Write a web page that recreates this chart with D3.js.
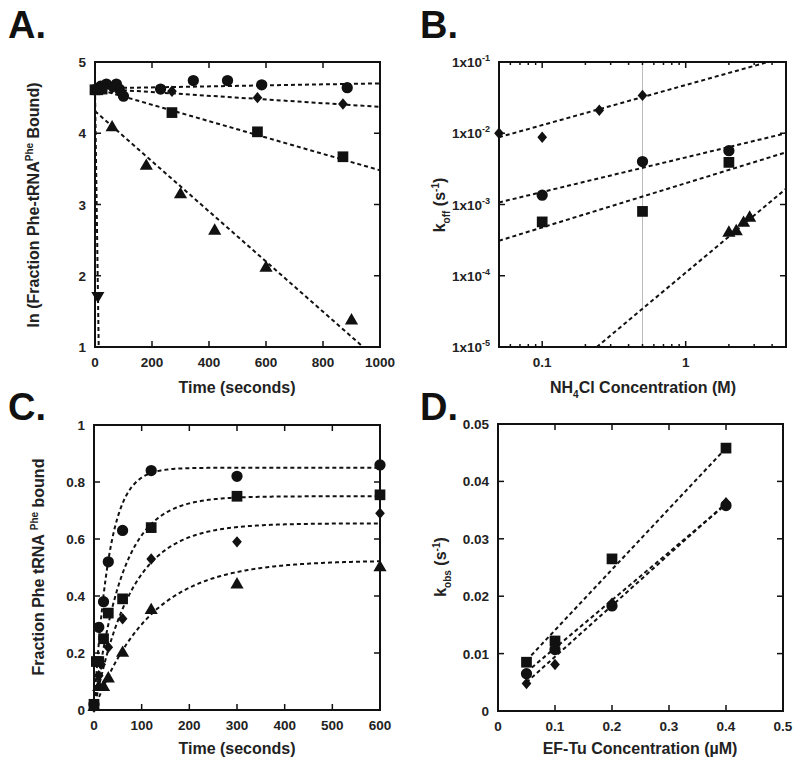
<!DOCTYPE html>
<html><head><meta charset="utf-8">
<script src="https://cdn.jsdelivr.net/npm/d3@7"></script>
<style>body{margin:0;background:#fff}</style>
</head><body><svg id="c" width="800" height="768"></svg>
<script>
// ---------- Panel A data (time s, ln fraction bound) ----------
const aCircles  = [[10,4.63],[20,4.66],[40,4.69],[75,4.69],[85,4.62],[100,4.52],[230,4.62],[345,4.74],[465,4.74],[585,4.68],[885,4.64]];
const aDiamonds = [[15,4.62],[60,4.63],[90,4.58],[270,4.59],[570,4.50],[870,4.41]];
const aSquares  = [[0,4.61],[10,4.61],[25,4.62],[270,4.29],[570,4.02],[870,3.67]];
const aTriangles= [[60,4.08],[180,3.54],[300,3.14],[420,2.63],[600,2.11],[900,1.37]];
const aInvTri   = [[10,1.72]];
const aFits = [
  [[0,4.63],[1000,4.70]],
  [[0,4.63],[1000,4.37]],
  [[0,4.63],[1000,3.48]],
  [[0,4.31],[941,1.0]],
  [[0,4.62],[13,1.0]]
];
const aXTicks = [0,200,400,600,800,1000];
const aYTicks = [1,2,3,4,5];

// ---------- Panel B data (NH4Cl M, koff s^-1) ----------
const bDiamonds = [[0.05,0.0100],[0.1,0.0088],[0.25,0.021],[0.5,0.034]];
const bCircles  = [[0.1,0.00135],[0.5,0.0040],[2,0.0057]];
const bSquares  = [[0.1,0.00057],[0.5,0.00080],[2,0.0039]];
const bTriangles= [[2,0.00040],[2.25,0.00042],[2.53,0.00055],[2.79,0.00065]];
const bFits = [
  [[0.05,0.0088],[3.75,0.1]],
  [[0.05,0.00107],[5,0.0100]],
  [[0.05,0.00031],[5,0.0054]],
  [[0.24,0.00001],[5,0.00166]]
];
const bXTickLabels = [0.1,1];
const bYTickExp = [-5,-4,-3,-2,-1];

// ---------- Panel C data (time s, fraction bound) ----------
const cCircles  = [[0,0.02],[10,0.29],[20,0.38],[30,0.52],[60,0.63],[120,0.84],[300,0.82],[600,0.86]];
const cSquares  = [[0,0.02],[5,0.17],[10,0.17],[20,0.25],[30,0.34],[60,0.39],[120,0.64],[300,0.75],[600,0.755]];
const cDiamonds = [[0,0.01],[10,0.12],[15,0.16],[30,0.22],[60,0.32],[120,0.53],[300,0.59],[600,0.69]];
const cTriangles= [[0,0.01],[10,0.08],[20,0.08],[30,0.11],[60,0.20],[120,0.35],[300,0.44],[600,0.50]];
// single-exponential fit parameters [amplitude, rate]
const cFitAmp  = [0.85, 0.75, 0.655, 0.525];
const cFitRate = [0.032, 0.017, 0.013, 0.0085];
const cXTicks = [0,100,200,300,400,500,600];
const cYTicks = [0,0.2,0.4,0.6,0.8,1];

// ---------- Panel D data (EF-Tu uM, kobs s^-1) ----------
const dSquares  = [[0.05,0.0085],[0.1,0.0122],[0.2,0.0265],[0.4,0.0458]];
const dCircles  = [[0.05,0.0065],[0.1,0.0107],[0.2,0.0183],[0.4,0.0358]];
const dDiamonds = [[0.05,0.0048],[0.1,0.0081],[0.2,0.0188],[0.4,0.0363]];
const dFits = [
  [[0.05,0.0088],[0.4,0.0458]],
  [[0.05,0.0068],[0.4,0.0360]],
  [[0.05,0.0050],[0.4,0.0362]]
];
const dXTicks = [0,0.1,0.2,0.3,0.4,0.5];
const dYTicks = [0,0.01,0.02,0.03,0.04,0.05];

// ---------- drawing ----------
const svg = d3.select("#c");
const FONT = "'Liberation Sans', Arial, Helvetica, sans-serif";
const TXT = "#222";

const diamondType = {draw(ctx, size){ const w = Math.sqrt(size)/2*0.85, h = Math.sqrt(size)/2;
  ctx.moveTo(0,-h); ctx.lineTo(w,0); ctx.lineTo(0,h); ctx.lineTo(-w,0); ctx.closePath(); }};
const invTriType = {draw(ctx, size){ const s = Math.sqrt(size*4/Math.sqrt(3)); const h = s*Math.sqrt(3)/2;
  ctx.moveTo(-s/2,-h/3); ctx.lineTo(s/2,-h/3); ctx.lineTo(0,2*h/3); ctx.closePath(); }};
const SYM = {
  circle: d3.symbol(d3.symbolCircle, 100),
  square: d3.symbol(d3.symbolSquare, 115),
  diamond: d3.symbol(diamondType, 130),
  triangle: d3.symbol(d3.symbolTriangle, 75),
  invtri: d3.symbol(invTriType, 75)
};

let clipId = 0;
function panel(o){
  const g = svg.append("g");
  const x = o.x, y = o.y;
  const [x0,x1] = x.range(), [y0,y1] = y.range();
  const id = "clip"+(clipId++);
  g.append("clipPath").attr("id",id).append("rect")
    .attr("x",x0).attr("y",y1).attr("width",x1-x0).attr("height",y0-y1);
  if (o.vref) g.append("line").attr("x1",x(o.vref)).attr("x2",x(o.vref)).attr("y1",y0).attr("y2",y1)
      .attr("stroke","#bbb").attr("stroke-width",1);
  const tk = 6, tkm = 3;
  const tickG = g.append("g").attr("stroke","#111").attr("stroke-width",1.5);
  o.xTicks.forEach(t=>{ tickG.append("line").attr("x1",x(t)).attr("x2",x(t)).attr("y1",y0).attr("y2",y0-tk);
    tickG.append("line").attr("x1",x(t)).attr("x2",x(t)).attr("y1",y1).attr("y2",y1+tk); });
  (o.xMinor||[]).forEach(t=>{ tickG.append("line").attr("x1",x(t)).attr("x2",x(t)).attr("y1",y0).attr("y2",y0-tkm);
    tickG.append("line").attr("x1",x(t)).attr("x2",x(t)).attr("y1",y1).attr("y2",y1+tkm); });
  o.yTicks.forEach(t=>{ tickG.append("line").attr("y1",y(t)).attr("y2",y(t)).attr("x1",x0).attr("x2",x0+tk);
    tickG.append("line").attr("y1",y(t)).attr("y2",y(t)).attr("x1",x1).attr("x2",x1-tk); });
  const tl = g.append("g").attr("font-family",FONT).attr("font-weight","bold").attr("font-size",13.5).attr("fill",TXT);
  (o.xLabelTicks||o.xTicks).forEach(t=>{ tl.append("text").attr("x",x(t)).attr("y",y0+20).attr("text-anchor","middle").text(o.xFmt(t)); });
  o.yTicks.forEach(t=>{ const te = tl.append("text").attr("x",x0-9).attr("y",y(t)+5).attr("text-anchor","end"); o.yFmt(te,t); });
  const fg = g.append("g").attr("clip-path",`url(#${id})`).attr("fill","none").attr("stroke","#111")
    .attr("stroke-width",2).attr("stroke-dasharray","4,3");
  const line = d3.line().x(d=>x(d[0])).y(d=>y(d[1]));
  o.fits.forEach(f=>fg.append("path").attr("d",line(f)));
  const pg = g.append("g").attr("fill","#111");
  o.series.forEach(s=>{
    s.data.forEach(d=>pg.append("path").attr("d",SYM[s.sym]()).attr("transform",`translate(${x(d[0])},${y(d[1])})`));
  });
  g.append("rect").attr("x",x0).attr("y",y1).attr("width",x1-x0).attr("height",y0-y1)
    .attr("fill","none").attr("stroke","#111").attr("stroke-width",2);
  return g;
}
const simple = (te,t)=>te.text(t);

// Panel A
const xA = d3.scaleLinear().domain([0,1000]).range([95,380]);
const yA = d3.scaleLinear().domain([1,5]).range([347,62]);
panel({x:xA,y:yA,xTicks:aXTicks,yTicks:aYTicks,xFmt:d=>d,yFmt:simple,fits:aFits,
  series:[{data:aCircles,sym:"circle"},{data:aDiamonds,sym:"diamond"},{data:aSquares,sym:"square"},
          {data:aTriangles,sym:"triangle"},{data:aInvTri,sym:"invtri"}]});

// Panel B
const xB = d3.scaleLog().domain([0.05,5]).range([499,786]);
const yB = d3.scaleLog().domain([1e-5,1e-1]).range([347,62]);
const bMinor = [0.05,0.06,0.07,0.08,0.09,0.2,0.3,0.4,0.5,0.6,0.7,0.8,0.9,2,3,4,5];
panel({x:xB,y:yB,xTicks:bXTickLabels,xMinor:bMinor,xLabelTicks:bXTickLabels,yTicks:bYTickExp.map(e=>Math.pow(10,e)),
  xFmt:d=>d, vref:0.5,
  yFmt:(te,t)=>{ const e=Math.round(Math.log10(t)); te.append("tspan").text("1x10");
    te.append("tspan").attr("dy",-6).attr("font-size",9).text(e); },
  fits:bFits,
  series:[{data:bDiamonds,sym:"diamond"},{data:bCircles,sym:"circle"},{data:bSquares,sym:"square"},{data:bTriangles,sym:"triangle"}]});

// Panel C
const xC = d3.scaleLinear().domain([0,600]).range([94,380]);
const yC = d3.scaleLinear().domain([0,1]).range([710,425]);
const tGrid = d3.range(0,601,2);
const cFits = cFitAmp.map((A,i)=>tGrid.map(t=>[t, A*(1-Math.exp(-cFitRate[i]*t))]));
panel({x:xC,y:yC,xTicks:cXTicks,yTicks:cYTicks,xFmt:d=>d,yFmt:(te,t)=>te.text(t===0||t===1?t:t.toFixed(1)),fits:cFits,
  series:[{data:cCircles,sym:"circle"},{data:cSquares,sym:"square"},{data:cDiamonds,sym:"diamond"},{data:cTriangles,sym:"triangle"}]});

// Panel D
const xD = d3.scaleLinear().domain([0,0.5]).range([498,783]);
const yD = d3.scaleLinear().domain([0,0.05]).range([711,424]);
panel({x:xD,y:yD,xTicks:dXTicks,yTicks:dYTicks,xFmt:d=>d===0?"0":d.toFixed(1),yFmt:(te,t)=>te.text(t===0?"0":t.toFixed(2)),fits:dFits,
  series:[{data:dSquares,sym:"square"},{data:dCircles,sym:"circle"},{data:dDiamonds,sym:"diamond"}]});

// ---------- titles ----------
const T = svg.append("g").attr("font-family",FONT).attr("font-weight","bold").attr("fill",TXT);
function title(x,y,rot,parts,size){
  const t = T.append("text").attr("font-size",size||16).attr("text-anchor","middle")
    .attr("transform",`translate(${x},${y}) rotate(${rot})`);
  parts.forEach(p=>{ const s=t.append("tspan").text(p[0]);
    if(p[1]==="sup") s.attr("dy",-6).attr("font-size",10);
    if(p[1]==="sub") s.attr("dy",5).attr("font-size",10);
    if(p[1]==="base") s.attr("dy",p[2]);
  });
}
title(237,393,0,[["Time (seconds)"]]);
title(643,393,0,[["NH"],["4","sub"],["Cl Concentration (M)","base",-5]]);
title(237,754,0,[["Time (seconds)"]]);
title(640,754,0,[["EF-Tu Concentration (µM)"]]);
title(39,205,-90,[["ln (Fraction Phe-tRNA"],["Phe","sup"],[" Bound)","base",6]]);
title(445,205,-90,[["k"],["off","sub"],[" (s","base",-5],["-1","sup"],[")","base",6]]);
title(44,567,-90,[["Fraction Phe tRNA "],["Phe","sup"],[" bound","base",6]]);
title(446,567,-90,[["k"],["obs","sub"],[" (s","base",-5],["-1","sup"],[")","base",6]]);

const L = svg.append("g").attr("font-family",FONT).attr("font-weight","bold").attr("fill","#111").attr("font-size",38);
L.append("text").attr("x",8).attr("y",38).text("A.");
L.append("text").attr("x",420).attr("y",38).text("B.");
L.append("text").attr("x",8).attr("y",420).text("C.");
L.append("text").attr("x",420).attr("y",420).text("D.");
</script></body></html>
